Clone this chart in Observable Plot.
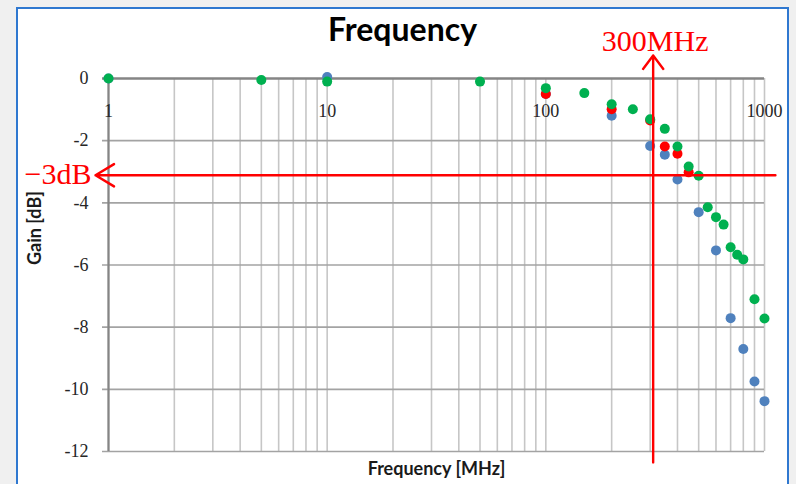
<!DOCTYPE html>
<html>
<head>
<meta charset="utf-8">
<script src="https://cdn.jsdelivr.net/npm/d3@7"></script>
<script src="https://cdn.jsdelivr.net/npm/@observablehq/plot@0.6"></script>
<style>
  html, body { margin: 0; padding: 0; background: #f0f0f0; }
  #wrap { position: relative; width: 796px; height: 484px; overflow: hidden; }
  #frame { position: absolute; left: 16px; top: 7px; width: 773px; height: 490px;
           background: #ffffff; border: 2px solid #2f78d0; box-sizing: border-box; }
  #chart { position: absolute; left: 0; top: 0; }
</style>
</head>
<body>
<div id="wrap"><div id="frame"></div><div id="chart"></div></div>
<script>
// ---- data ----
const freqBlue = [1, 10, 100, 200, 300, 350, 400, 500, 600, 700, 800, 900, 1000];
const gainBlue = [0, 0.05, -0.5, -1.2, -2.17, -2.45, -3.25, -4.3, -5.53, -7.71, -8.7, -9.75, -10.38];
const freqRed  = [100, 200, 300, 350, 400, 450];
const gainRed  = [-0.5, -0.99, -1.35, -2.19, -2.42, -3.02];
const freqGreen = [1, 5, 10, 50, 100, 150, 200, 250, 300, 350, 400, 450, 500, 550, 600, 650, 700, 750, 800, 900, 1000];
const gainGreen = [0, -0.05, -0.1, -0.1, -0.31, -0.47, -0.83, -0.99, -1.31, -1.62, -2.19, -2.83, -3.13, -4.14, -4.46, -4.70, -5.43, -5.67, -5.82, -7.10, -7.72];
const xTickLabels = [1, 10, 100, 1000];
const yTickLabels = [0, -2, -4, -6, -8, -10, -12];
const titleText = "Frequency";
const xTitle = "Frequency [MHz]";
const yTitle = "Gain [dB]";
const markerFreq = 300;      // MHz
const markerGain = -3;       // dB
const markerFreqLabel = "300MHz";
const markerGainLabel = "\u22123dB";

const toRows = (f, g) => f.map((x, i) => ({x, y: g[i]}));
const blue = toRows(freqBlue, gainBlue);
const red = toRows(freqRed, gainRed);
const green = toRows(freqGreen, gainGreen);
const xGrid = d3.scaleLog().domain([1, 1000]).ticks();

const serif = "'Liberation Serif', 'DejaVu Serif', serif";
const sans = "Lato, 'Open Sans', sans-serif";
const annot = "#ff0000";

const chart = Plot.plot({
  width: 796,
  height: 484,
  marginLeft: 108,
  marginRight: 32,
  marginTop: 78,
  marginBottom: 33,
  style: {background: "transparent", overflow: "visible"},
  x: {type: "log", domain: [1, 1000], axis: null},
  y: {domain: [-12, 0], axis: null},
  marks: [
    Plot.ruleX(xGrid, {stroke: "#c6c6c6", strokeWidth: 1.6}),
    Plot.ruleY(yTickLabels.filter(d => d !== 0), {stroke: "#a3a3a3", strokeWidth: 1.6, insetLeft: -6}),
    Plot.ruleY([0], {stroke: "#858585", strokeWidth: 2.4, insetLeft: -6}),
    Plot.ruleX([1], {stroke: "#858585", strokeWidth: 2.2}),
    Plot.text(yTickLabels, {x: 1, y: d => d, text: d => String(d), textAnchor: "end", dx: -20,
      fontFamily: serif, fontSize: 18, fill: "#262626"}),
    Plot.text(xTickLabels, {x: d => d, y: 0, dy: 33, text: d => String(d),
      fontFamily: serif, fontSize: 18, fill: "#262626"}),
    Plot.dot(blue, {x: "x", y: "y", r: 5, fill: "#4f81bd"}),
    Plot.dot(red, {x: "x", y: "y", r: 5, fill: "#ff0000"}),
    Plot.dot(green, {x: "x", y: "y", r: 5, fill: "#00b050"}),
    // annotation arrows
    Plot.arrow([{x1: 1122, x2: 0.872, y: markerGain}], {x1: "x1", x2: "x2", y1: "y", y2: "y",
      stroke: annot, strokeWidth: 2.4, headLength: 13.5, headAngle: 62, dy: 3.5}),
    Plot.arrow([{x: markerFreq, y1: -12.35, y2: 0.74}], {x1: "x", x2: "x", y1: "y1", y2: "y2",
      stroke: annot, strokeWidth: 2.4, headLength: 10.5, headAngle: 74, dx: 3}),
    Plot.text([markerFreqLabel], {x: markerFreq, y: 0, dx: 5, dy: -37.5, text: d => d,
      fontFamily: serif, fontSize: 30, fill: annot, ariaLabel: "annotation"}),
    Plot.text([markerGainLabel], {x: 1, y: markerGain, dx: -17, dy: 3, text: d => d, textAnchor: "end",
      fontFamily: serif, fontSize: 30, fill: annot, ariaLabel: "annotation"}),
    // titles
    Plot.text([titleText], {frameAnchor: "top", lineAnchor: "middle", dx: -34, dy: -48, text: d => d,
      fontFamily: sans, fontWeight: "bold", fontSize: 32, fill: "#000"}),
    Plot.text([xTitle], {frameAnchor: "bottom", lineAnchor: "middle", dy: 18, text: d => d,
      fontFamily: sans, fontWeight: "bold", fontSize: 18, fill: "#1a1a1a"}),
    Plot.text([yTitle], {frameAnchor: "left", lineAnchor: "middle", dx: -73, rotate: -90, text: d => d,
      fontFamily: sans, fontWeight: "bold", fontSize: 18, fill: "#1a1a1a"})
  ]
});
// the annotation font in the reference is taller than it is wide
d3.select(chart).selectAll('g[aria-label="annotation"] text').each(function () {
  const t = this.getAttribute("transform") || "";
  this.setAttribute("transform", t + " scale(1,1.2)");
});
document.getElementById("chart").appendChild(chart);
</script>
</body>
</html>
